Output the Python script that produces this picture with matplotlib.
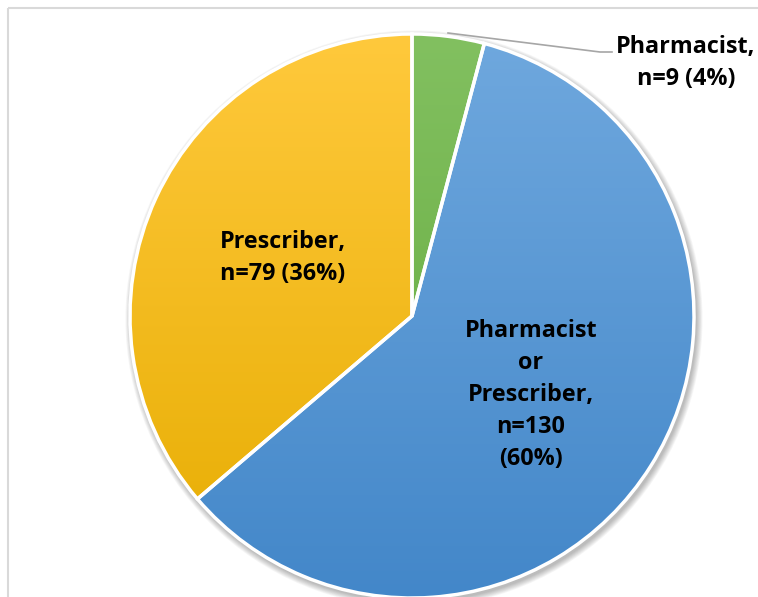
import matplotlib
matplotlib.use("Agg")
import matplotlib.pyplot as plt
import numpy as np
from matplotlib.patches import Rectangle, Circle
from matplotlib.colors import to_rgb

labels = ["Pharmacist,\nn=9 (4%)", "Pharmacist\nor\nPrescriber,\nn=130\n(60%)", "Prescriber,\nn=79 (36%)"]
counts = [9, 130, 79]
top_colors = ["#82C060", "#6FA8DE", "#FFC93C"]
bot_colors = ["#62A83A", "#4387C9", "#E6AC00"]

W, H = 758, 597
fig = plt.figure(figsize=(W / 100, H / 100), dpi=100)
ax = fig.add_axes([0, 0, 1, 1])

cx, cy, R = 412, 316, 282

# soft shadow
for i in range(8):
    ax.add_patch(Circle((cx + 2, cy + 3), R + 1 + i * 0.8, facecolor="black",
                        alpha=0.035, edgecolor="none", zorder=1))

# y axis is inverted, so counterclockwise in data = clockwise on screen
wedges, _ = ax.pie(counts, center=(cx, cy), radius=R, startangle=-90, counterclock=True,
                   wedgeprops=dict(edgecolor="white", linewidth=2.5), frame=True)
ax.set_xlim(0, W)
ax.set_ylim(H, 0)
ax.axis("off")

# outer frame
ax.add_patch(Rectangle((8, 8), 800, 700, fill=False, edgecolor="#D9D9D9", lw=1.5, zorder=0))

for w, ct, cb in zip(wedges, top_colors, bot_colors):
    t = np.array(to_rgb(ct)); b = np.array(to_rgb(cb))
    f = np.linspace(0, 1, 256)[:, None]
    grad = (t[None, :] * (1 - f) + b[None, :] * f)[:, None, :]
    im = ax.imshow(grad, extent=(cx - R, cx + R, cy + R, cy - R), aspect="auto",
                   zorder=2, interpolation="bilinear")
    im.set_clip_path(w)
    w.set_zorder(3)
    w.set_facecolor("none")

ax.set_xlim(0, W)
ax.set_ylim(H, 0)

font = dict(family="Open Sans", fontweight="bold", fontsize=16.8, color="black",
            linespacing=1.45, ha="center", va="center")
ax.text(686, 63, labels[0], **font, zorder=5)
ax.text(531, 395, labels[1], **font, zorder=5)
ax.text(283, 258, labels[2], **font, zorder=5)

ax.plot([448, 600, 612], [33, 52, 52], color="#A6A6A6", lw=1.2, zorder=4)

fig.savefig("out.png", dpi=100)
